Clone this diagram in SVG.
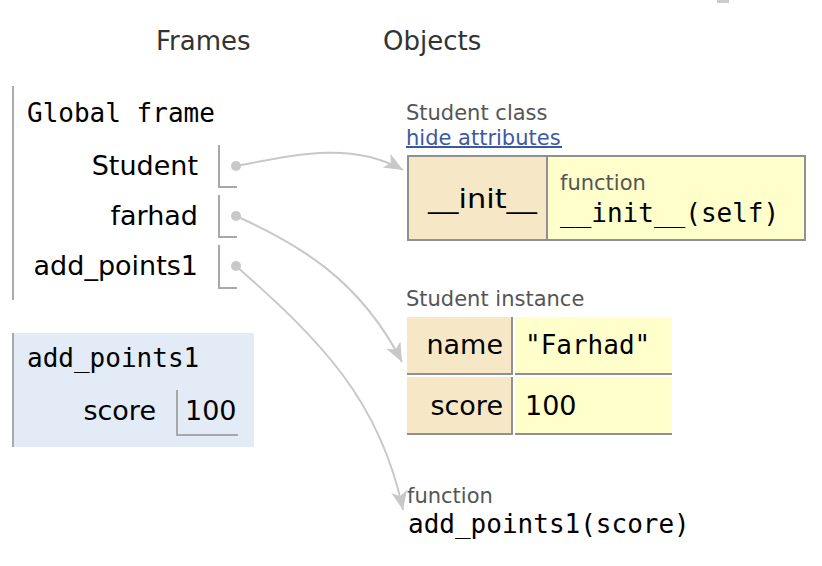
<svg xmlns="http://www.w3.org/2000/svg" width="822" height="566" viewBox="0 0 822 566">
<defs>
<style>
.sans{font-family:"DejaVu Sans","Verdana",sans-serif;}
.mono{font-family:"DejaVu Sans Mono","Liberation Mono",monospace;}
.big{font-size:27px;fill:#000;}
.mbig{font-size:26px;fill:#000;}
.small{font-size:21px;fill:#555;}
.hdr{font-size:26px;fill:#333;}
.ptr{fill:none;stroke:#a8a8a8;stroke-width:2;}
.key{fill:#f6e8c6;}
.val{fill:#ffffcc;}
.edge{fill:none;stroke:#c8c8c8;stroke-width:2;}
.dot{fill:#c8c8c8;}
.bd{fill:#909090;}
</style>
<marker id="arrow" markerUnits="userSpaceOnUse" viewBox="-20 -10 22 20" refX="0" refY="0" markerWidth="22" markerHeight="20" orient="auto">
<path d="M0,0 L-19,-8 L-14,0 L-19,8 Z" fill="#c8c8c8"/>
</marker>
</defs>
<rect width="822" height="566" fill="#fff"/>
<rect x="717" y="0" width="12" height="3" fill="#ccc"/>

<g id="headers">
<text class="sans hdr" x="156" y="50">Frames</text>
<text class="sans hdr" x="383" y="50">Objects</text>
</g>

<g id="global-frame">
<rect x="12" y="86" width="2" height="214" fill="#aaa"/>
<text class="mono mbig" x="27" y="122">Global frame</text>
<text class="sans big" x="198" y="175" text-anchor="end">Student</text>
<polyline class="ptr" points="219,145 219,187 237,187"/>
<text class="sans big" x="198" y="225" text-anchor="end">farhad</text>
<polyline class="ptr" points="219,195 219,237 237,237"/>
<text class="sans big" x="198" y="275" text-anchor="end">add_points1</text>
<polyline class="ptr" points="219,245 219,288 237,288"/>
</g>

<g id="add_points1-frame">
<rect x="12" y="333" width="242" height="114" fill="#e2ebf6"/>
<rect x="12" y="333" width="2" height="114" fill="#aaa"/>
<text class="mono mbig" x="27" y="367">add_points1</text>
<text class="sans big" x="156" y="420" text-anchor="end">score</text>
<polyline class="ptr" points="177,390 177,435 238,435"/>
<text class="sans big" x="185" y="420">100</text>
</g>

<g id="student-class">
<text class="sans small" x="406" y="120">Student class</text>
<text class="sans" x="406" y="145" font-size="21" fill="#3d58a2">hide attributes</text>
<rect x="406" y="146" width="156" height="2" fill="#3d58a2"/>
<rect x="407" y="155" width="399" height="86" fill="#909090"/>
<rect class="key" x="409" y="157" width="137" height="82"/>
<rect class="val" x="548" y="157" width="256" height="82"/>
<text class="sans big" x="428" y="208" textLength="109" lengthAdjust="spacingAndGlyphs">__init__</text>
<text class="sans small" x="560" y="190">function</text>
<text class="mono mbig" x="560" y="222">__init__(self)</text>
</g>

<g id="student-instance">
<text class="sans small" x="406" y="306">Student instance</text>
<rect class="key" x="407" y="317" width="106" height="58"/>
<rect class="bd" x="511" y="317" width="2" height="58"/>
<rect class="bd" x="407" y="373" width="106" height="2"/>
<rect class="val" x="515" y="317" width="157" height="58"/>
<rect class="bd" x="515" y="373" width="157" height="2"/>
<rect class="key" x="407" y="377" width="106" height="58"/>
<rect class="bd" x="511" y="377" width="2" height="58"/>
<rect class="bd" x="407" y="433" width="106" height="2"/>
<rect class="val" x="515" y="377" width="157" height="58"/>
<rect class="bd" x="515" y="433" width="157" height="2"/>
<text class="sans big" x="503" y="354" text-anchor="end">name</text>
<text class="mono mbig" x="525" y="354">"Farhad"</text>
<text class="sans big" x="503" y="415" text-anchor="end">score</text>
<text class="sans big" x="525" y="415">100</text>
</g>

<g id="add_points1-function">
<text class="sans small" x="407" y="503">function</text>
<text class="mono mbig" x="408" y="533">add_points1(score)</text>
</g>

<g id="connectors">
<circle class="dot" cx="236" cy="166" r="5"/>
<circle class="dot" cx="236" cy="216" r="5"/>
<circle class="dot" cx="236" cy="266" r="5"/>
<path class="edge" d="M236,166 C290,156 350,140 403,170" marker-end="url(#arrow)"/>
<path class="edge" d="M236,216 C300,245 360,280 402,362" marker-end="url(#arrow)"/>
<path class="edge" d="M236,266 C320,340 380,400 403,510" marker-end="url(#arrow)"/>
</g>
</svg>
